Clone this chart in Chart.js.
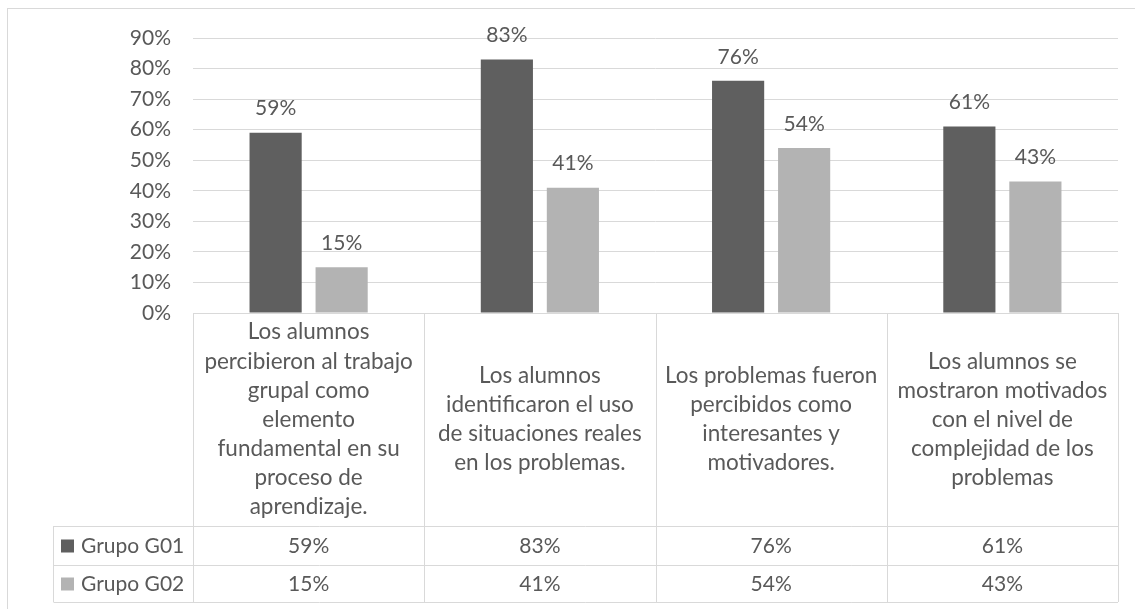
<!DOCTYPE html>
<html lang="es">
<head>
  <meta charset="UTF-8">
  <title>Percepción de los alumnos</title>
  <script src="https://cdn.jsdelivr.net/npm/chart.js"></script>
  <style>
    body {
      margin: 0;
      background: #fff;
    }
    #contenedor {
      position: relative;
      width: 1135px;
      height: 609px;
    }
  </style>
</head>
<body>
  <div id="contenedor">
    <canvas id="grafico"></canvas>
  </div>

  <script>
    // categorias (cada una ya partida en lineas) y valores por grupo
    const categorias = [
      ['Los alumnos', 'percibieron al trabajo', 'grupal como', 'elemento', 'fundamental en su', 'proceso de', 'aprendizaje.'],
      ['Los alumnos', 'identificaron el uso', 'de situaciones reales', 'en los problemas.'],
      ['Los problemas fueron', 'percibidos como', 'interesantes y', 'motivadores.'],
      ['Los alumnos se', 'mostraron motivados', 'con el nivel de', 'complejidad de los', 'problemas']
    ];
    const grupos = ['Grupo G01', 'Grupo G02'];
    const grupoG01 = [59, 83, 76, 61];
    const grupoG02 = [15, 41, 54, 43];
    const ejeMax = 90;
    const ejePaso = 10;

    const colores = ['#5f5f5f', '#b3b3b3'];
    const gris = '#d9d9d9';
    const texto = '#595959';
    const fuente = '21px Lato';
    const fuenteCab = '22.5px Lato';

    // marco exterior del grafico
    const marco = {
      id: 'marco',
      beforeDraw(chart) {
        const c = chart.ctx;
        c.save();
        c.fillStyle = '#fff';
        c.fillRect(0, 0, chart.width, chart.height);
        c.strokeStyle = gris;
        c.lineWidth = 1;
        c.strokeRect(7.5, 8.5, chart.width + 20, chart.height + 20);
        c.restore();
      }
    };

    // porcentaje encima de cada barra
    const etiquetas = {
      id: 'etiquetas',
      afterDatasetsDraw(chart) {
        const c = chart.ctx;
        c.save();
        c.font = fuente;
        c.fillStyle = texto;
        c.textAlign = 'center';
        c.textBaseline = 'middle';
        chart.data.datasets.forEach((ds, i) => {
          chart.getDatasetMeta(i).data.forEach((bar, j) => {
            c.fillText(ds.data[j] + '%', bar.x, bar.y - 24);
          });
        });
        c.restore();
      }
    };

    // tabla de datos bajo el eje x
    const tabla = {
      id: 'tabla',
      afterDraw(chart) {
        const c = chart.ctx;
        const x = chart.scales.x;
        const area = chart.chartArea;
        const ancho = (area.right - area.left) / categorias.length;
        const yCab = area.bottom;
        const yFila1 = yCab + 213;
        const yFila2 = yFila1 + 39;
        const yFin = yFila2 + 37;
        const xLeyenda = 53.5;

        c.save();
        c.strokeStyle = gris;
        c.lineWidth = 1;
        c.beginPath();
        c.moveTo(area.left, yCab + 0.5);
        c.lineTo(area.right, yCab + 0.5);
        [yFila1, yFila2, yFin].forEach(y => {
          c.moveTo(xLeyenda, y + 0.5);
          c.lineTo(area.right, y + 0.5);
        });
        for (let i = 0; i <= categorias.length; i++) {
          const xl = Math.round(area.left + i * ancho) + 0.5;
          c.moveTo(xl, yCab);
          c.lineTo(xl, yFin);
        }
        c.moveTo(xLeyenda, yFila1);
        c.lineTo(xLeyenda, yFin);
        c.stroke();

        c.fillStyle = texto;
        c.textAlign = 'center';
        c.textBaseline = 'middle';
        const alto = 29.1;
        categorias.forEach((lineas, i) => {
          const cx = x.getPixelForValue(i);
          const y0 = (yCab + yFila1) / 2 - (lineas.length - 1) * alto / 2;
          c.font = fuenteCab;
          lineas.forEach((l, k) => c.fillText(l, cx, y0 + k * alto));
          c.font = fuente;
          c.fillText(grupoG01[i] + '%', cx, (yFila1 + yFila2) / 2 + 1);
          c.fillText(grupoG02[i] + '%', cx, (yFila2 + yFin) / 2 + 1);
        });

        const filas = [(yFila1 + yFila2) / 2, (yFila2 + yFin) / 2];
        grupos.forEach((g, i) => {
          c.fillStyle = colores[i];
          c.fillRect(61, filas[i] - 6, 13, 13);
          c.fillStyle = texto;
          c.textAlign = 'left';
          c.fillText(g, 81, filas[i] + 1);
        });
        c.restore();
      }
    };

    const ctx = document.getElementById('grafico').getContext('2d');
    new Chart(ctx, {
      type: 'bar',
      data: {
        labels: categorias,
        datasets: [{
          label: grupos[0],
          data: grupoG01,
          backgroundColor: colores[0],
          barPercentage: 0.79,
          categoryPercentage: 0.571
        }, {
          label: grupos[1],
          data: grupoG02,
          backgroundColor: colores[1],
          barPercentage: 0.79,
          categoryPercentage: 0.571
        }]
      },
      options: {
        responsive: true,
        maintainAspectRatio: false,
        animation: false,
        layout: {
          padding: { top: 38, right: 17, bottom: 296, left: 0 }
        },
        plugins: {
          legend: { display: false },
          tooltip: { enabled: false }
        },
        scales: {
          x: {
            ticks: { display: false },
            grid: { display: false },
            border: { display: false },
            afterFit: s => { s.height = 0; }
          },
          y: {
            min: 0,
            max: ejeMax,
            ticks: {
              stepSize: ejePaso,
              padding: 22,
              color: texto,
              font: { family: 'Lato', size: 21 },
              callback: v => v + '%'
            },
            grid: { color: gris, drawTicks: false },
            border: { display: false },
            afterFit: s => { s.width = 193; }
          }
        }
      },
      plugins: [marco, etiquetas, tabla]
    });
  </script>
</body>
</html>
